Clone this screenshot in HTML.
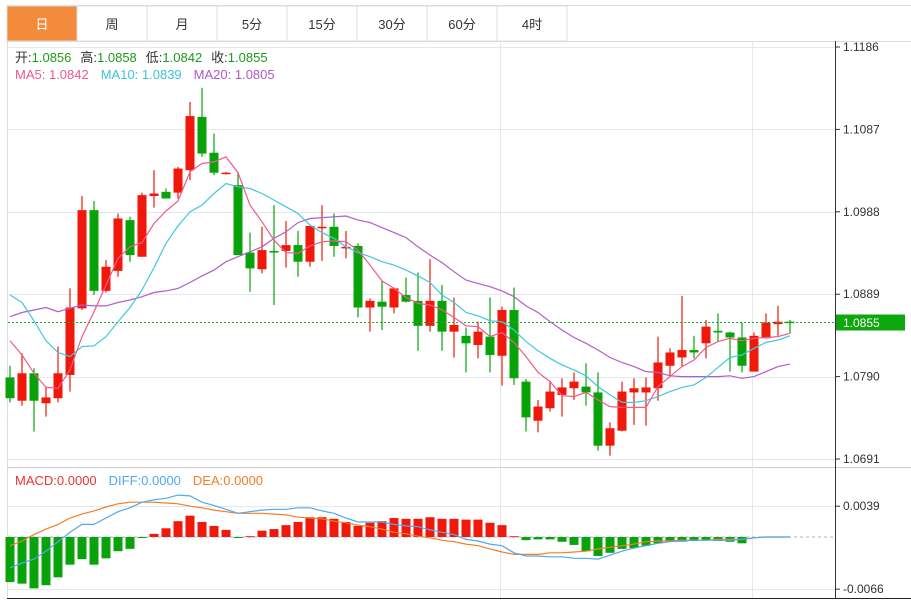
<!DOCTYPE html>
<html><head><meta charset="utf-8">
<style>
html,body{margin:0;padding:0;background:#fff;width:911px;height:600px;overflow:hidden;font-family:"Liberation Sans","Noto Sans CJK SC",sans-serif;}
svg{position:absolute;left:0;top:0;}
</style></head>
<body>
<svg id="chart" width="911" height="600" viewBox="0 0 911 600" xmlns="http://www.w3.org/2000/svg" font-family="Liberation Sans, Noto Sans CJK SC, sans-serif">
  <g id="tabs"></g>
  <g id="frame"></g>
  <g id="grid"></g>
  <g id="candles"></g>
  <g id="mas"></g>
  <g id="macd"></g>
  <g id="axis"></g>
  <g font-size="13">
    <text x="15" y="62"><tspan fill="#333">开:</tspan><tspan fill="#1a9e1a">1.0856</tspan><tspan fill="#333" dx="9">高:</tspan><tspan fill="#1a9e1a">1.0858</tspan><tspan fill="#333" dx="9">低:</tspan><tspan fill="#1a9e1a">1.0842</tspan><tspan fill="#333" dx="9">收:</tspan><tspan fill="#1a9e1a">1.0855</tspan></text>
    <text x="15" y="79"><tspan fill="#ee5a8a">MA5: 1.0842</tspan><tspan fill="#3cc3dc" dx="12">MA10: 1.0839</tspan><tspan fill="#b05ac8" dx="12">MA20: 1.0805</tspan></text>
  </g>
  <g font-size="13">
    <text x="15" y="485"><tspan fill="#ee3333">MACD:0.0000</tspan><tspan fill="#52a8ee" dx="12">DIFF:0.0000</tspan><tspan fill="#f57d24" dx="12">DEA:0.0000</tspan></text>
  </g>
</svg>
<script>
const opens=[1.0789,1.0761,1.0794,1.0758,1.0764,1.0792,1.0872,1.0990,1.0893,1.0917,1.0978,1.0934,1.1007,1.1012,1.1011,1.1038,1.1102,1.1059,1.1034,1.1020,1.0939,1.0919,1.0941,1.0941,1.0948,1.0928,1.0969,1.0970,1.0944,1.0947,1.0873,1.0880,1.0873,1.0888,1.0881,1.0851,1.0881,1.0844,1.0839,1.0828,1.0838,1.0815,1.0870,1.0784,1.0737,1.0752,1.0768,1.0776,1.0778,1.0771,1.0707,1.0725,1.0771,1.0771,1.0776,1.0803,1.0813,1.0822,1.0830,1.0845,1.0843,1.0837,1.0796,1.0836,1.0853,1.0856];
const highs=[1.0803,1.0818,1.0800,1.0778,1.0826,1.0896,1.1007,1.1001,1.0930,1.0986,1.0982,1.1011,1.1038,1.1016,1.1042,1.1120,1.1137,1.1082,1.1036,1.1036,1.0963,1.0970,1.0996,1.0977,1.0965,1.0971,1.0996,1.0986,1.0965,1.0950,1.0884,1.0905,1.0897,1.0909,1.0915,1.0931,1.0900,1.0885,1.0849,1.0856,1.0885,1.0874,1.0897,1.0787,1.0762,1.0785,1.0788,1.0795,1.0806,1.0795,1.0735,1.0784,1.0788,1.0789,1.0838,1.0824,1.0887,1.0839,1.0858,1.0866,1.0844,1.0855,1.0843,1.0866,1.0875,1.0858];
const lows=[1.0759,1.0755,1.0724,1.0742,1.0759,1.0772,1.0870,1.0888,1.0891,1.0910,1.0928,1.0934,1.0993,1.1004,1.1004,1.1026,1.1054,1.1032,1.1033,1.0936,1.0892,1.0914,1.0876,1.0921,1.0910,1.0922,1.0929,1.0934,1.0932,1.0861,1.0844,1.0846,1.0866,1.0879,1.0821,1.0844,1.0821,1.0813,1.0795,1.0812,1.0795,1.0779,1.0780,1.0724,1.0723,1.0748,1.0742,1.0762,1.0755,1.0701,1.0695,1.0724,1.0732,1.0731,1.0761,1.0790,1.0802,1.0812,1.0812,1.0832,1.0796,1.0795,1.0796,1.0836,1.0839,1.0842];
const closes=[1.0764,1.0794,1.0761,1.0765,1.0794,1.0873,1.0990,1.0893,1.0922,1.0980,1.0936,1.1008,1.1010,1.1004,1.1040,1.1103,1.1058,1.1035,1.1035,1.0936,1.0920,1.0942,1.0939,1.0948,1.0928,1.0971,1.0970,1.0947,1.0946,1.0873,1.0881,1.0874,1.0896,1.0880,1.0851,1.0881,1.0844,1.0852,1.0830,1.0844,1.0816,1.0870,1.0788,1.0741,1.0754,1.0772,1.0777,1.0784,1.0771,1.0707,1.0728,1.0772,1.0776,1.0777,1.0807,1.0819,1.0822,1.0819,1.0850,1.0843,1.0837,1.0803,1.0839,1.0855,1.0856,1.0855];
const ma5=[1.0833,1.0816,1.0794,1.0777,1.0776,1.0798,1.0838,1.0868,1.0900,1.0932,1.0946,1.0951,1.0974,1.0989,1.1001,1.1036,1.1046,1.1048,1.1054,1.1035,1.0996,1.0976,1.0954,1.0939,1.0938,1.0947,1.0952,1.0953,1.0952,1.0942,1.0924,1.0905,1.0896,1.0885,1.0878,1.0876,1.0870,1.0861,1.0851,1.0850,1.0838,1.0843,1.0831,1.0814,1.0795,1.0784,1.0767,1.0766,1.0771,1.0762,1.0754,1.0753,1.0753,1.0753,1.0778,1.0790,1.0802,1.0810,1.0825,1.0832,1.0836,1.0833,1.0836,1.0837,1.0838,1.0842];
const ma10=[1.0888,1.0879,1.0857,1.0833,1.0819,1.0814,1.0826,1.0827,1.0838,1.0856,1.0873,1.0894,1.0921,1.0950,1.0971,1.0988,1.0996,1.1010,1.1022,1.1018,1.1016,1.1010,1.1002,1.0994,1.0986,1.0972,1.0963,1.0956,1.0946,1.0939,1.0934,1.0928,1.0924,1.0918,1.0911,1.0903,1.0888,1.0879,1.0867,1.0863,1.0857,1.0856,1.0846,1.0832,1.0821,1.0812,1.0804,1.0798,1.0791,1.0778,1.0768,1.0759,1.0759,1.0761,1.0766,1.0772,1.0777,1.0780,1.0789,1.0801,1.0813,1.0816,1.0824,1.0831,1.0834,1.0839];
const ma20=[1.0862,1.0867,1.0870,1.0873,1.0868,1.0872,1.0876,1.0875,1.0875,1.0879,1.0882,1.0886,1.0891,1.0893,1.0896,1.0903,1.0911,1.0918,1.0928,1.0934,1.0940,1.0946,1.0956,1.0964,1.0975,1.0980,1.0981,1.0982,1.0983,1.0978,1.0975,1.0969,1.0963,1.0957,1.0946,1.0936,1.0927,1.0916,1.0906,1.0902,1.0898,1.0893,1.0886,1.0875,1.0867,1.0856,1.0846,1.0837,1.0830,1.0822,1.0813,1.0807,1.0802,1.0796,1.0795,1.0791,1.0790,1.0790,1.0790,1.0790,1.0791,1.0788,1.0790,1.0796,1.0802,1.0805];
const macdHist=[-0.0057,-0.0059,-0.0065,-0.0061,-0.0051,-0.0035,-0.0028,-0.0035,-0.0027,-0.0018,-0.0015,-0.0001,0.0004,0.0011,0.0020,0.0027,0.0019,0.0014,0.0009,-0.0001,0.0001,0.0008,0.0010,0.0015,0.0019,0.0025,0.0025,0.0023,0.0019,0.0014,0.0018,0.0020,0.0024,0.0023,0.0023,0.0025,0.0023,0.0023,0.0022,0.0022,0.0018,0.0015,0.0001,-0.0004,-0.0003,-0.0003,-0.0006,-0.0010,-0.0018,-0.0024,-0.0020,-0.0015,-0.0014,-0.0011,-0.0008,-0.0006,-0.0006,-0.0005,-0.0004,-0.0005,-0.0006,-0.0008,0,0,0,0];
const diff=[-0.0039,-0.0033,-0.0028,-0.0018,-0.0006,0.0006,0.0016,0.0016,0.0024,0.0032,0.0037,0.0044,0.0047,0.0049,0.0053,0.0052,0.0044,0.0040,0.0035,0.0030,0.0032,0.0034,0.0035,0.0035,0.0037,0.0037,0.0033,0.0030,0.0024,0.0019,0.0019,0.0019,0.0016,0.0014,0.0013,0.0009,0.0006,0.0003,-0.0003,-0.0005,-0.0009,-0.0011,-0.0020,-0.0024,-0.0024,-0.0025,-0.0025,-0.0027,-0.0027,-0.0028,-0.0023,-0.0018,-0.0014,-0.0011,-0.0008,-0.0006,-0.0005,-0.0004,-0.0004,-0.0004,-0.0004,-0.0003,-0.0001,0,0,0];
const dea=[-0.0011,-0.0005,0.0003,0.0010,0.0016,0.0024,0.0029,0.0033,0.0038,0.0042,0.0044,0.0044,0.0044,0.0043,0.0042,0.0039,0.0037,0.0034,0.0032,0.0030,0.0030,0.0030,0.0029,0.0028,0.0025,0.0024,0.0023,0.0020,0.0018,0.0015,0.0013,0.0010,0.0006,0.0004,0.0001,-0.0001,-0.0004,-0.0006,-0.0009,-0.0011,-0.0015,-0.0019,-0.0022,-0.0022,-0.0022,-0.0020,-0.0020,-0.0019,-0.0018,-0.0015,-0.0013,-0.0011,-0.0009,-0.0006,-0.0005,-0.0005,-0.0004,-0.0004,-0.0004,-0.0003,-0.0003,-0.0003,-0.0001,0,0,0];
const priceTicks=["1.1186","1.1087","1.0988","1.0889","1.0790","1.0691"];
const macdTicks=["0.0039","-0.0066"];
const tabLabels=["日","周","月","5分","15分","30分","60分","4时"];
const lastPrice=1.0855;

const NS="http://www.w3.org/2000/svg";
function mk(parent,tag,attrs){const e=document.createElementNS(NS,tag);for(const k in attrs)e.setAttribute(k,attrs[k]);parent.appendChild(e);return e;}
const RED="#f0180a",GREEN="#08a30a";
const xAt=i=>10+12*i;
const yP=p=>47+(1.1186-p)/(1.1186-1.0691)*412;
const yM=v=>537-v*7905;

// tabs
const gt=document.getElementById('tabs');
mk(gt,'line',{x1:7,y1:5.5,x2:911,y2:5.5,stroke:'#ddd'});
mk(gt,'line',{x1:7,y1:41.5,x2:911,y2:41.5,stroke:'#ddd'});
tabLabels.forEach((t,i)=>{
  const x0=7+70*i;
  const r=mk(gt,'rect',{x:x0,y:6,width:70,height:35,fill:i===0?'#f28c3c':'#fff',stroke:'#ddd'});
  
  
  const tx=mk(gt,'text',{x:x0+35,y:29,'text-anchor':'middle','font-size':13,fill:i===0?'#fff':'#333'});
  tx.textContent=t;
  
  
});
mk(gt,'line',{x1:567,y1:6,x2:567,y2:41,stroke:'#ddd'});

// frame
const gf=document.getElementById('frame');
mk(gf,'line',{x1:7.5,y1:41,x2:7.5,y2:598,stroke:'#ddd'});
mk(gf,'line',{x1:7,y1:467.5,x2:911,y2:467.5,stroke:'#ccc'});
mk(gf,'line',{x1:7,y1:598.5,x2:911,y2:598.5,stroke:'#222'});
mk(gf,'line',{x1:835.5,y1:41,x2:835.5,y2:598,stroke:'#333'});

// grid
const gg=document.getElementById('grid');
priceTicks.forEach(t=>{const y=Math.round(yP(+t))+0.5;mk(gg,'line',{x1:8,y1:y,x2:835,y2:y,stroke:'#e3e8ee'});});
macdTicks.forEach(t=>{const y=Math.round(yM(+t))+0.5;mk(gg,'line',{x1:8,y1:y,x2:835,y2:y,stroke:'#e3e8ee'});});
[500.5,752.5].forEach(x=>{mk(gg,'line',{x1:x,y1:42,x2:x,y2:598,stroke:'#e3e8ee'});});

// candles
const gc=document.getElementById('candles');
opens.forEach((o,i)=>{
  const c=closes[i],x=xAt(i),up=c>=o,col=up?RED:GREEN;
  const g=mk(gc,'g',{});
  
  
  mk(g,'line',{x1:x,y1:yP(highs[i]),x2:x,y2:yP(lows[i]),stroke:col,'stroke-width':1.2});
  const top=yP(Math.max(o,c)),bot=yP(Math.min(o,c));
  mk(g,'rect',{x:x-4.5,y:top,width:9,height:Math.max(1.5,bot-top),fill:col});
});
// last price dotted line
const ly=yP(lastPrice);
const lp=mk(gc,'line',{x1:8,y1:ly,x2:835,y2:ly,stroke:'#1eaa1e','stroke-dasharray':'2,2'});



// MAs
const gm=document.getElementById('mas');
function poly(parent,arr,yf,col,name){
  const p=mk(parent,'polyline',{points:arr.map((v,i)=>xAt(i)+','+yf(v).toFixed(1)).join(' '),fill:'none',stroke:col,'stroke-width':1.2});
  
  
}
poly(gm,ma20,yP,'#b25ccc','ma20-line');
poly(gm,ma10,yP,'#41c7de','ma10-line');
poly(gm,ma5,yP,'#ef5b8c','ma5-line');

// MACD
const gd=document.getElementById('macd');
const z=mk(gd,'line',{x1:8,y1:537,x2:835,y2:537,stroke:'#9cb8d0','stroke-dasharray':'3,3'});


macdHist.forEach((v,i)=>{
  if(v===0)return;
  const y0=yM(0),y1=yM(v);
  const r=mk(gd,'rect',{x:xAt(i)-4.5,y:Math.min(y0,y1),width:9,height:Math.max(1,Math.abs(y1-y0)),fill:v>0?RED:GREEN});
  
  
});
poly(gd,dea,yM,'#f57d24','dea-line');
poly(gd,diff,yM,'#52a8ee','diff-line');

// axis labels
const ga=document.getElementById('axis');
priceTicks.forEach(t=>{
  const y=yP(+t);
  mk(ga,'line',{x1:836,y1:y,x2:840,y2:y,stroke:'#333'});
  const tx=mk(ga,'text',{x:843,y:y+4,'font-size':12,fill:'#333'});tx.textContent=t;
  
  
});
macdTicks.forEach(t=>{
  const y=yM(+t);
  mk(ga,'line',{x1:836,y1:y,x2:840,y2:y,stroke:'#333'});
  const tx=mk(ga,'text',{x:843,y:y+4,'font-size':12,fill:'#333'});tx.textContent=t;
  
  
});
const tag=mk(ga,'rect',{x:836,y:ly-8,width:69,height:16,fill:'#0ea70e'});


const tt=mk(ga,'text',{x:843,y:ly+4.5,'font-size':12,fill:'#fff'});tt.textContent=lastPrice.toFixed(4);


</script>
</body></html>
